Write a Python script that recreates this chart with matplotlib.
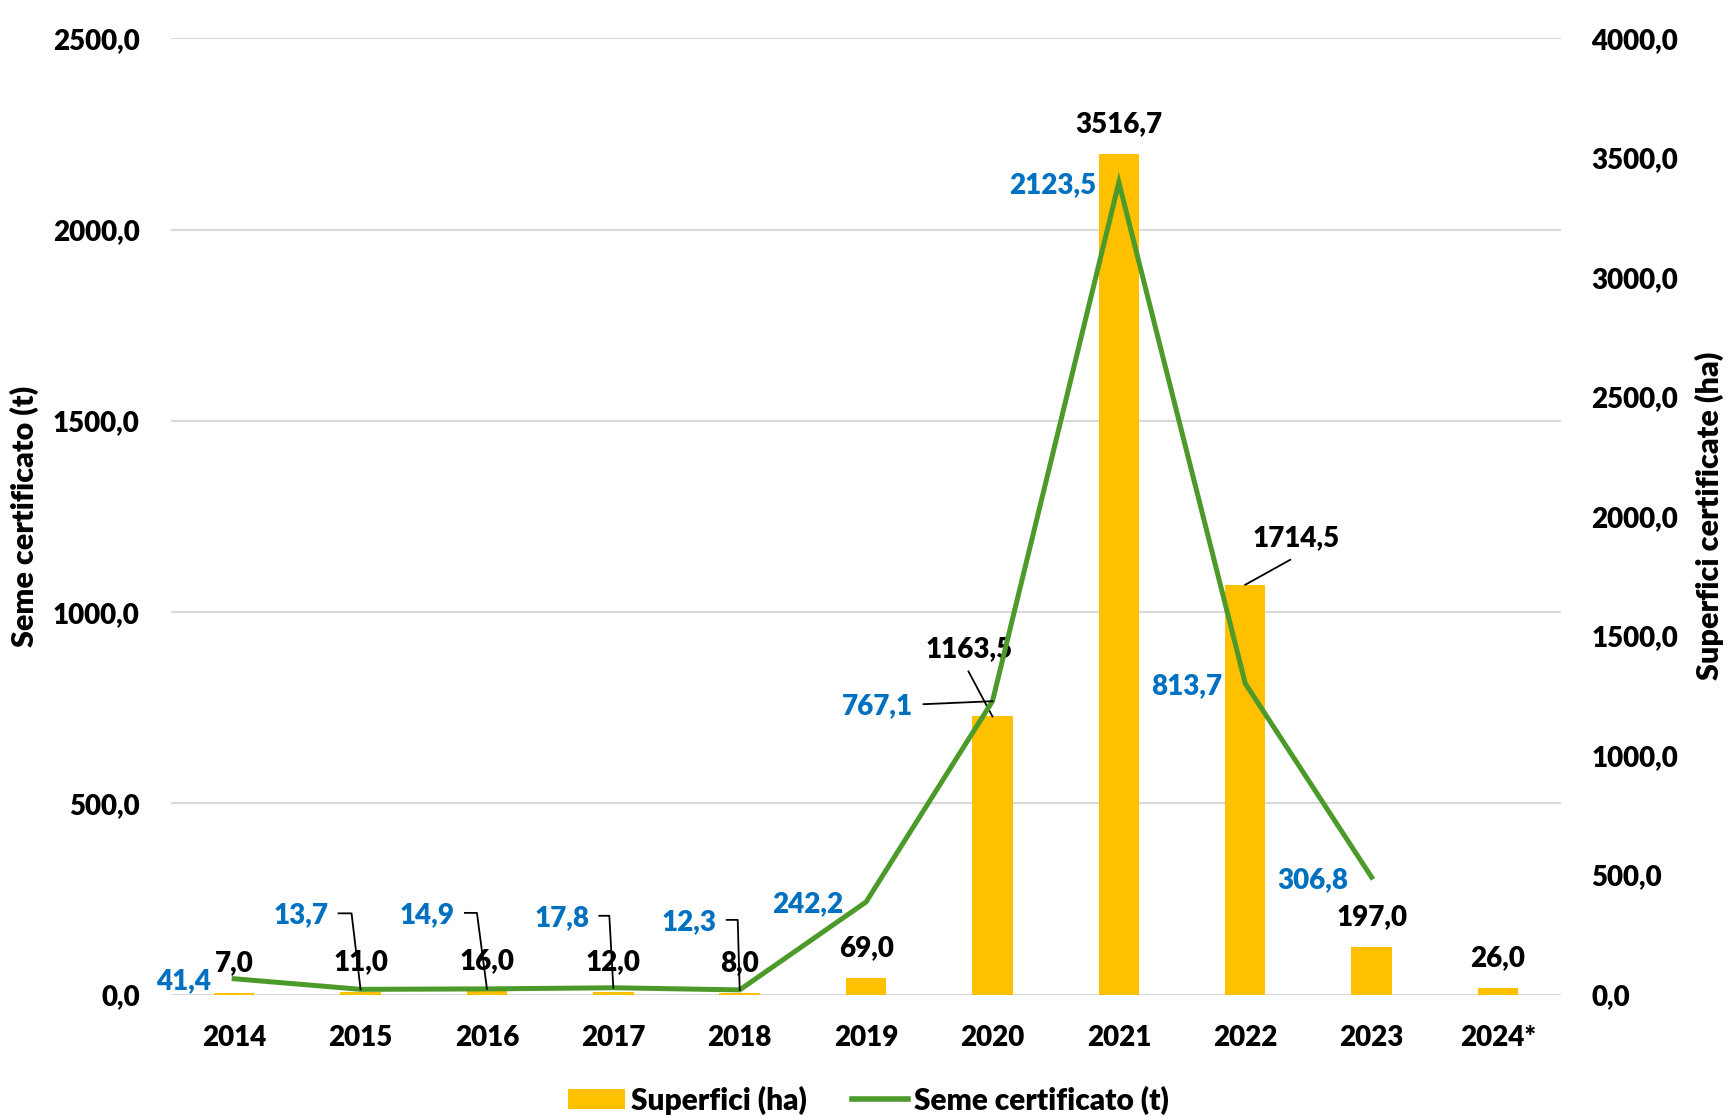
import numpy as np
import matplotlib.pyplot as plt
from matplotlib.lines import Line2D
from matplotlib.patches import Patch
from matplotlib.transforms import IdentityTransform

plt.rcParams['font.family'] = ['Lato', 'DejaVu Sans']
plt.rcParams['font.weight'] = 'heavy'
plt.rcParams['font.size'] = 20

years = ['2014', '2015', '2016', '2017', '2018', '2019', '2020', '2021', '2022', '2023', '2024*']
superfici = [7.0, 11.0, 16.0, 12.0, 8.0, 69.0, 1163.5, 3516.7, 1714.5, 197.0, 26.0]
seme = [41.4, 13.7, 14.9, 17.8, 12.3, 242.2, 767.1, 2123.5, 813.7, 306.8]

left_ticks = [0, 500, 1000, 1500, 2000, 2500]
right_ticks = [0, 500, 1000, 1500, 2000, 2500, 3000, 3500, 4000]

yellow = '#FFC000'
green = '#4C9A2A'
blue = '#0070C0'


def fmt(v):
    return f'{v:.1f}'.replace('.', ',')


fig = plt.figure(figsize=(17.27, 11.15), dpi=100)
ax = fig.add_axes([0.099, 0.108, 0.805, 0.8575])
ax2 = ax.twinx()   # bars, right scale
ax3 = ax.twinx()   # line, left scale, on top

x = np.arange(len(years))

# grid + left ticks
ax.set_ylim(0, 2500)
ax.set_yticks(left_ticks)
ax.set_yticklabels([fmt(v) for v in left_ticks])
ax.grid(axis='y', color='#D9D9D9', lw=1.5)
ax.set_axisbelow(True)
ax.set_xlim(-0.5, len(years) - 0.5)
ax.set_xticks(x)
ax.set_xticklabels(years)
ax.tick_params(axis='y', length=0, pad=22.5)
ax.tick_params(axis='x', length=0, pad=22)

# bars
ax2.bar(x, superfici, width=0.32, color=yellow, zorder=2)
ax2.set_ylim(0, 4000)
ax2.set_yticks(right_ticks)
ax2.set_yticklabels([fmt(v) for v in right_ticks])
ax2.tick_params(axis='y', length=0, pad=21.8)

# line
ax3.plot(x[:len(seme)], seme, color=green, lw=3.6, solid_joinstyle='miter')
ax3.set_ylim(0, 2500)
ax3.set_yticks([])

for a in (ax, ax2, ax3):
    for s in a.spines.values():
        s.set_visible(False)


def leader(axis, xv, yv, pts):
    px, py = axis.transData.transform((xv, yv))
    xs = [px + dx for dx, dy in pts]
    ys = [py + dy for dx, dy in pts]
    axis.add_line(Line2D(xs, ys, transform=IdentityTransform(), color='black',
                         lw=1.3, clip_on=False, zorder=5))


# bar labels
bar_off = {6: (-23, 67), 8: (51, 47)}
for i, v in enumerate(superfici):
    dx, dy = bar_off.get(i, (0, 30))
    ax2.annotate(fmt(v), (x[i], v), xytext=(dx, dy), textcoords='offset pixels',
                 ha='center', va='center', color='black', fontsize=20)
leader(ax2, x[6], superfici[6], [(-24, 45), (0, 0)])
leader(ax2, x[8], superfici[8], [(45, 25), (0, 0)])

# line labels
stub = {1: (-32, -22, -9, 76), 2: (-32, -22, -10, 76),
        3: (-24, -14, -4, 72), 4: (-23, -13, -2, 70)}
for i, v in enumerate(seme):
    if i in stub:
        rx, s0, s1, dy = stub[i]
        ax3.annotate(fmt(v), (x[i], v), xytext=(rx, dy - 2), textcoords='offset pixels',
                     ha='right', va='center', color=blue, fontsize=20)
        leader(ax3, x[i], v, [(s0, dy), (s1, dy), (0, 0)])
    elif i == 6:
        ax3.annotate(fmt(v), (x[i], v), xytext=(-79, -5), textcoords='offset pixels',
                     ha='right', va='center', color=blue, fontsize=20)
        leader(ax3, x[i], v, [(-69, -3), (0, 0)])
    else:
        ax3.annotate(fmt(v), (x[i], v), xytext=(-23, -2.5), textcoords='offset pixels',
                     ha='right', va='center', color=blue, fontsize=20)

fig.text(24 / 1727, 0.5368, 'Seme certificato (t)', rotation=90, ha='center', va='center',
         fontsize=22)
fig.text(1709 / 1727, 0.5377, 'Superfici certificate (ha)', rotation=90, ha='center',
         va='center', fontsize=22)

handles = [Patch(facecolor=yellow), Line2D([0], [0], color=green, lw=4)]
fig.legend(handles, ['Superfici (ha)', 'Seme certificato (t)'], loc='center',
           bbox_to_anchor=(0.503, 0.0135), ncol=2, frameon=False, fontsize=21.5,
           handlelength=1.9, handletextpad=0.2, columnspacing=1.5)

fig.savefig('out.png', dpi=100)
